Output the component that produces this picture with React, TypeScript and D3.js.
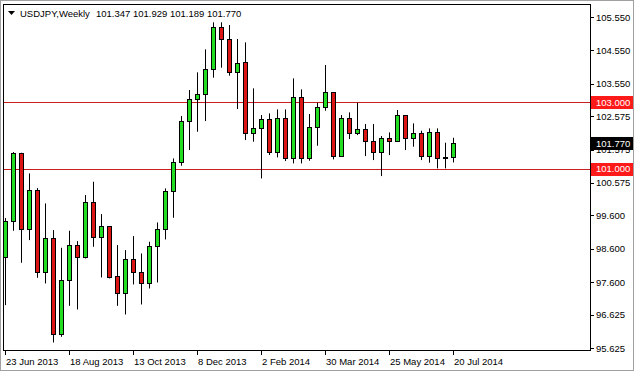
import * as d3 from "d3";
import { useEffect, useRef } from "react";

// weekly USDJPY candles, 23 Jun 2013 .. 20 Jul 2014
const opens = [
  98.36, 99.43, 101.46, 99.18, 100.36, 97.91, 98.91, 96.03, 97.66, 98.7,
  98.36, 100.01, 98.96, 99.28, 97.78, 97.26, 98.28, 97.91, 97.56, 98.68,
  99.18, 100.33, 101.21, 102.44, 103.08, 103.23, 103.98, 105.26, 104.88, 103.89,
  104.21, 102.06, 102.21, 102.48, 101.49, 102.51, 101.31, 103.14, 101.31, 102.24,
  102.86, 103.29, 101.39, 102.51, 102.06, 102.18, 101.84, 101.51, 101.93, 101.84,
  102.61, 101.93, 102.08, 101.39, 102.1, 101.33, 101.347,
];
const highs = [
  99.52, 101.5, 101.48, 100.86, 100.42, 99.96, 99.16, 98.63, 99.14, 98.83,
  100.21, 100.61, 99.64, 99.28, 98.71, 98.56, 98.98, 98.46, 98.81, 99.39,
  100.41, 101.31, 102.58, 103.36, 103.89, 104.58, 105.39, 105.39, 105.31, 104.89,
  104.79, 103.41, 102.61, 102.66, 102.78, 102.78, 103.71, 103.38, 102.64, 102.98,
  104.11, 103.29, 102.61, 102.69, 102.98, 102.34, 102.34, 101.98, 102.09, 102.76,
  102.61, 102.36, 102.14, 102.21, 102.21, 101.78, 101.929,
];
const lows = [
  96.91, 99.14, 98.18, 98.86, 97.73, 97.56, 95.79, 95.96, 96.89, 96.78,
  98.31, 98.66, 97.74, 97.71, 96.89, 96.63, 97.53, 96.93, 97.41, 97.59,
  98.88, 99.53, 101.09, 101.56, 102.11, 102.43, 103.73, 104.03, 103.79, 102.79,
  101.86, 101.81, 100.71, 101.41, 101.34, 101.23, 101.16, 101.16, 101.24, 101.69,
  102.74, 101.28, 101.39, 101.89, 102.01, 101.38, 101.26, 100.78, 101.41, 101.81,
  101.56, 101.66, 101.26, 101.18, 101.01, 101.01, 101.189,
];
const closes = [
  99.44, 101.46, 99.18, 100.36, 97.91, 98.91, 96.03, 97.66, 98.71, 98.36,
  100.01, 98.96, 99.28, 97.76, 97.26, 98.28, 97.91, 97.56, 98.68, 99.18,
  100.33, 101.21, 102.44, 103.08, 103.23, 103.98, 105.26, 104.88, 103.89, 104.18,
  102.06, 102.21, 102.48, 101.49, 102.51, 101.31, 103.14, 101.31, 102.24, 102.86,
  103.29, 101.39, 102.51, 102.06, 102.18, 101.84, 101.51, 101.93, 101.84, 102.61,
  101.93, 102.06, 101.39, 102.1, 101.33, 101.34, 101.77,
];

const dateLabels = [
  "23 Jun 2013", "18 Aug 2013", "13 Oct 2013", "8 Dec 2013",
  "2 Feb 2014", "30 Mar 2014", "25 May 2014", "20 Jul 2014",
];
const priceTicks = [
  105.55, 104.55, 103.55, 102.575, 101.575, 100.575, 99.6, 98.6, 97.6, 96.625, 95.625,
];
const levels = [103.0, 101.0];
const header = "USDJPY,Weekly";
const headerValues = "101.347 101.929 101.189 101.770";

const FONT = "'Liberation Sans', Arial, sans-serif";

const App = () => {
  const ref = useRef<SVGSVGElement>(null);
  const width = 634;
  const height = 371;

  useEffect(() => {
    const plot = { left: 3, top: 4, right: 590, bottom: 350 };
    const svg = d3.select(ref.current);
    svg.selectAll("*").remove();

    const x = d3.scaleLinear().domain([0, opens.length - 1]).range([5, 453]);
    const y = d3.scaleLinear().domain([95.625, 105.55]).range([348, 17]);
    const fmt = d3.format(".3f");

    svg.append("rect").attr("width", width).attr("height", height).attr("fill", "white");
    svg
      .append("rect")
      .attr("x", 0.5)
      .attr("y", 0.5)
      .attr("width", width - 1)
      .attr("height", height - 1)
      .attr("fill", "none")
      .attr("stroke", "#a0a0a0");

    svg
      .append("clipPath")
      .attr("id", "plotclip")
      .append("rect")
      .attr("x", plot.left + 1)
      .attr("y", plot.top + 1)
      .attr("width", plot.right - plot.left - 1)
      .attr("height", plot.bottom - plot.top - 1);

    const g = svg.append("g").attr("clip-path", "url(#plotclip)");

    // horizontal levels
    g.selectAll("line.level")
      .data(levels)
      .join("line")
      .attr("x1", plot.left)
      .attr("x2", plot.right)
      .attr("y1", (d) => Math.round(y(d)) + 0.5)
      .attr("y2", (d) => Math.round(y(d)) + 0.5)
      .attr("stroke", "#c81e1e");

    const idx = d3.range(opens.length);
    const px = (i: number) => Math.round(x(i));

    // wicks
    g.selectAll("line.wick")
      .data(idx)
      .join("line")
      .attr("x1", (i) => px(i) + 0.5)
      .attr("x2", (i) => px(i) + 0.5)
      .attr("y1", (i) => y(highs[i]))
      .attr("y2", (i) => y(lows[i]))
      .attr("stroke", "black");

    // bodies
    g.selectAll("rect.body")
      .data(idx)
      .join("rect")
      .attr("x", (i) => px(i) - 1.5)
      .attr("width", 4)
      .attr("y", (i) => Math.round(y(Math.max(opens[i], closes[i]))) + 0.5)
      .attr("height", (i) =>
        Math.max(0, Math.round(y(Math.min(opens[i], closes[i]))) - Math.round(y(Math.max(opens[i], closes[i]))))
      )
      .attr("fill", (i) => (closes[i] >= opens[i] ? "#22dd22" : "#dd1414"))
      .attr("stroke", "black");

    // frame
    svg
      .append("rect")
      .attr("x", plot.left + 0.5)
      .attr("y", plot.top + 0.5)
      .attr("width", plot.right - plot.left)
      .attr("height", plot.bottom - plot.top)
      .attr("fill", "none")
      .attr("stroke", "black");

    // price axis
    const ya = svg.append("g");
    ya.selectAll("line")
      .data(priceTicks)
      .join("line")
      .attr("x1", plot.right)
      .attr("x2", plot.right + 4)
      .attr("y1", (d) => Math.round(y(d)) + 0.5)
      .attr("y2", (d) => Math.round(y(d)) + 0.5)
      .attr("stroke", "black");
    ya.selectAll("text")
      .data(priceTicks)
      .join("text")
      .attr("x", plot.right + 6)
      .attr("y", (d) => y(d) + 3.5)
      .attr("font-family", FONT)
      .attr("font-size", 9.5)
      .attr("fill", "black")
      .text((d) => fmt(d));

    // level price tags
    const tags = [
      ...levels.map((v) => ({ v, bg: "#ff1a1a" })),
      { v: closes[closes.length - 1], bg: "black" },
    ];
    const tg = svg.selectAll("g.tag").data(tags).join("g");
    tg.append("rect")
      .attr("x", plot.right + 1)
      .attr("y", (d) => Math.round(y(d.v)) - 6)
      .attr("width", 42)
      .attr("height", 13)
      .attr("fill", (d) => d.bg);
    tg.append("text")
      .attr("x", plot.right + 6)
      .attr("y", (d) => y(d.v) + 3.5)
      .attr("font-family", FONT)
      .attr("font-size", 9.5)
      .attr("fill", "white")
      .text((d) => fmt(d.v));

    // time axis
    const xa = svg.append("g");
    xa.selectAll("line")
      .data(dateLabels)
      .join("line")
      .attr("x1", (_, k) => px(k * 8) + 0.5)
      .attr("x2", (_, k) => px(k * 8) + 0.5)
      .attr("y1", plot.bottom)
      .attr("y2", plot.bottom + 5)
      .attr("stroke", "black");
    xa.selectAll("text")
      .data(dateLabels)
      .join("text")
      .attr("x", (_, k) => px(k * 8) + 1)
      .attr("y", plot.bottom + 15)
      .attr("font-family", FONT)
      .attr("font-size", 9.5)
      .attr("fill", "black")
      .text((d) => d);

    // header
    svg
      .append("path")
      .attr("d", "M8,11 L15,11 L11.5,15 Z")
      .attr("fill", "black");
    svg
      .append("text")
      .attr("x", 20)
      .attr("y", 16.5)
      .attr("font-family", FONT)
      .attr("font-size", 9.5)
      .attr("fill", "black")
      .text(header);
    svg
      .append("text")
      .attr("x", 96)
      .attr("y", 16.5)
      .attr("font-family", FONT)
      .attr("font-size", 9.5)
      .attr("fill", "black")
      .text(headerValues);
  }, []);

  return (
    <svg
      ref={ref}
      width={width}
      height={height}
      style={{ position: "absolute", left: 0, top: 0, display: "block" }}
    ></svg>
  );
};

export default App;
